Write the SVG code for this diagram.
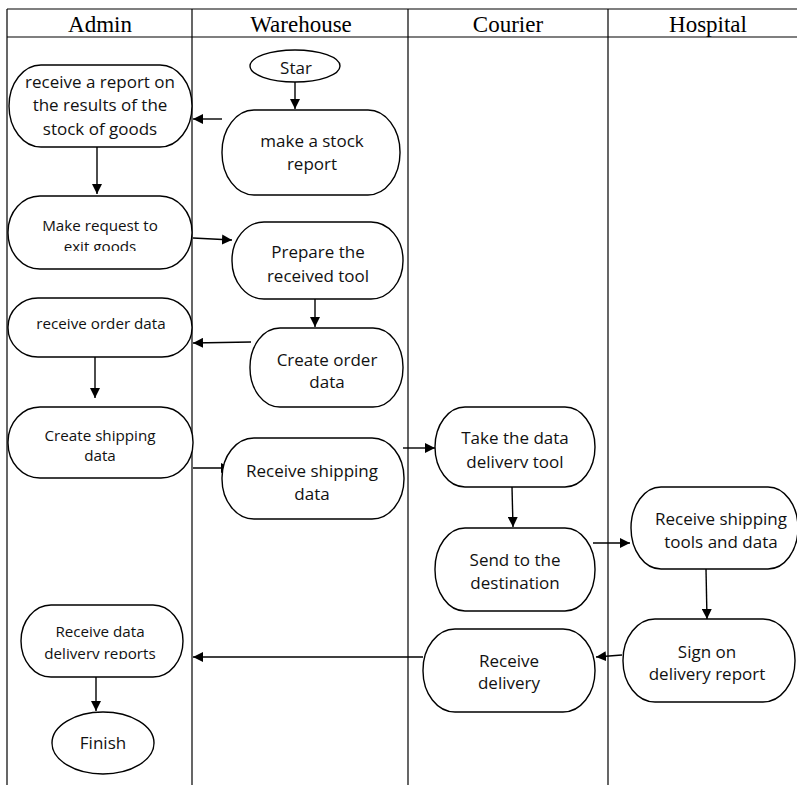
<svg xmlns="http://www.w3.org/2000/svg" width="797" height="785" viewBox="0 0 797 785">
<style>
.lane{stroke:#000;stroke-width:1.2;fill:none}
.hd{font-family:"Liberation Serif",serif;font-size:23px;fill:#000;text-anchor:middle}
.nd{fill:#fff;stroke:#000;stroke-width:1.4}
.t{font-family:"Open Sans","Noto Sans",sans-serif;font-size:17px;fill:#111;text-anchor:middle}
.s{font-size:15.2px}
.c{stroke:#000;stroke-width:1.4;fill:none;marker-end:url(#ah)}
</style>
<defs>
<marker id="ah" viewBox="0 0 10 10" refX="10" refY="5" markerWidth="10" markerHeight="10" markerUnits="userSpaceOnUse" orient="auto">
<path d="M0,0 L10,5 L0,10 Z" fill="#000"/>
</marker>
<clipPath id="cl3"><rect x="0" y="190" width="200" height="61"/></clipPath>
<clipPath id="cl9"><rect x="430" y="400" width="170" height="68"/></clipPath>
<clipPath id="cl14"><rect x="0" y="600" width="200" height="59"/></clipPath>
</defs>
<g id="lanes">
<line class="lane" x1="7" y1="9" x2="797" y2="9"/>
<line class="lane" x1="7" y1="37" x2="797" y2="37"/>
<line class="lane" x1="7" y1="9" x2="7" y2="785"/>
<line class="lane" x1="192" y1="9" x2="192" y2="785"/>
<line class="lane" x1="408" y1="9" x2="408" y2="785"/>
<line class="lane" x1="608" y1="9" x2="608" y2="785"/>
<text class="hd" x="100" y="32">Admin</text>
<text class="hd" x="301" y="32">Warehouse</text>
<text class="hd" x="508" y="32">Courier</text>
<text class="hd" x="708" y="32">Hospital</text>
</g>
<g id="connectors">
<line class="c" x1="295" y1="82" x2="295" y2="109"/>
<line class="c" x1="222" y1="119" x2="193" y2="119"/>
<line class="c" x1="97" y1="147" x2="97" y2="194"/>
<line class="c" x1="193" y1="238" x2="232" y2="240"/>
<line class="c" x1="315" y1="299" x2="315" y2="327"/>
<line class="c" x1="251" y1="342" x2="193" y2="343"/>
<line class="c" x1="95" y1="357" x2="95" y2="398"/>
<line class="c" x1="193" y1="468" x2="231" y2="468"/>
<line class="c" x1="403" y1="448" x2="435" y2="448"/>
<line class="c" x1="512" y1="487" x2="513" y2="527"/>
<line class="c" x1="593" y1="543" x2="630" y2="543"/>
<line class="c" x1="706" y1="569" x2="707" y2="619"/>
<line class="c" x1="622" y1="655" x2="596" y2="657"/>
<line class="c" x1="423" y1="657" x2="193" y2="657"/>
<line class="c" x1="96" y1="677" x2="96" y2="711"/>
</g>
<g id="start">
<ellipse class="nd" cx="295" cy="66" rx="45" ry="16"/>
<text class="t" x="296" y="74">Star</text>
</g>
<g id="n1">
<rect class="nd" x="9" y="65" width="183" height="82" rx="32" ry="41"/>
<text class="t" x="100" y="88">receive a report on</text>
<text class="t" x="100" y="111">the results of the</text>
<text class="t" x="100" y="135">stock of goods</text>
</g>
<g id="n2">
<rect class="nd" x="222" y="110" width="178" height="85" rx="32" ry="42"/>
<text class="t" x="312" y="147">make a stock</text>
<text class="t" x="312" y="170">report</text>
</g>
<g id="n3">
<rect class="nd" x="8" y="196" width="184" height="73" rx="32" ry="36"/>
<g clip-path="url(#cl3)">
<text class="t s" x="100" y="231">Make request to</text>
<text class="t s" x="100" y="252">exit goods</text>
</g>
</g>
<g id="n4">
<rect class="nd" x="232" y="222" width="171" height="77" rx="32" ry="38"/>
<text class="t" x="318" y="258">Prepare the</text>
<text class="t" x="318" y="282">received tool</text>
</g>
<g id="n5">
<rect class="nd" x="250" y="328" width="153" height="79" rx="30" ry="39"/>
<text class="t" x="327" y="366">Create order</text>
<text class="t" x="327" y="388">data</text>
</g>
<g id="n6">
<rect class="nd" x="8" y="298" width="184" height="59" rx="30" ry="29"/>
<text class="t s" x="101" y="329">receive order data</text>
</g>
<g id="n7">
<rect class="nd" x="8" y="407" width="185" height="71" rx="32" ry="35"/>
<text class="t s" x="100" y="441">Create shipping</text>
<text class="t s" x="100" y="461">data</text>
</g>
<g id="n8">
<rect class="nd" x="222" y="438" width="182" height="81" rx="32" ry="40"/>
<text class="t" x="312" y="477">Receive shipping</text>
<text class="t" x="312" y="500">data</text>
</g>
<g id="n9">
<rect class="nd" x="435" y="407" width="160" height="80" rx="30" ry="40"/>
<g clip-path="url(#cl9)">
<text class="t" x="515" y="444">Take the data</text>
<text class="t" x="515" y="468">delivery tool</text>
</g>
</g>
<g id="n10">
<rect class="nd" x="435" y="528" width="160" height="83" rx="30" ry="41"/>
<text class="t" x="515" y="566">Send to the</text>
<text class="t" x="515" y="589">destination</text>
</g>
<g id="n11">
<rect class="nd" x="631" y="487" width="167" height="82" rx="30" ry="41"/>
<text class="t" x="721" y="525">Receive shipping</text>
<text class="t" x="721" y="548">tools and data</text>
</g>
<g id="n12">
<rect class="nd" x="623" y="619" width="172" height="83" rx="32" ry="41"/>
<text class="t" x="707" y="658">Sign on</text>
<text class="t" x="707" y="680">delivery report</text>
</g>
<g id="n13">
<rect class="nd" x="423" y="629" width="172" height="83" rx="32" ry="41"/>
<text class="t" x="509" y="667">Receive</text>
<text class="t" x="509" y="689">delivery</text>
</g>
<g id="n14">
<rect class="nd" x="21" y="605" width="162" height="72" rx="30" ry="36"/>
<g clip-path="url(#cl14)">
<text class="t s" x="100" y="637">Receive data</text>
<text class="t s" x="100" y="659">delivery reports</text>
</g>
</g>
<g id="finish">
<ellipse class="nd" cx="103" cy="743" rx="51" ry="31"/>
<text class="t" x="103" y="749">Finish</text>
</g>
</svg>
